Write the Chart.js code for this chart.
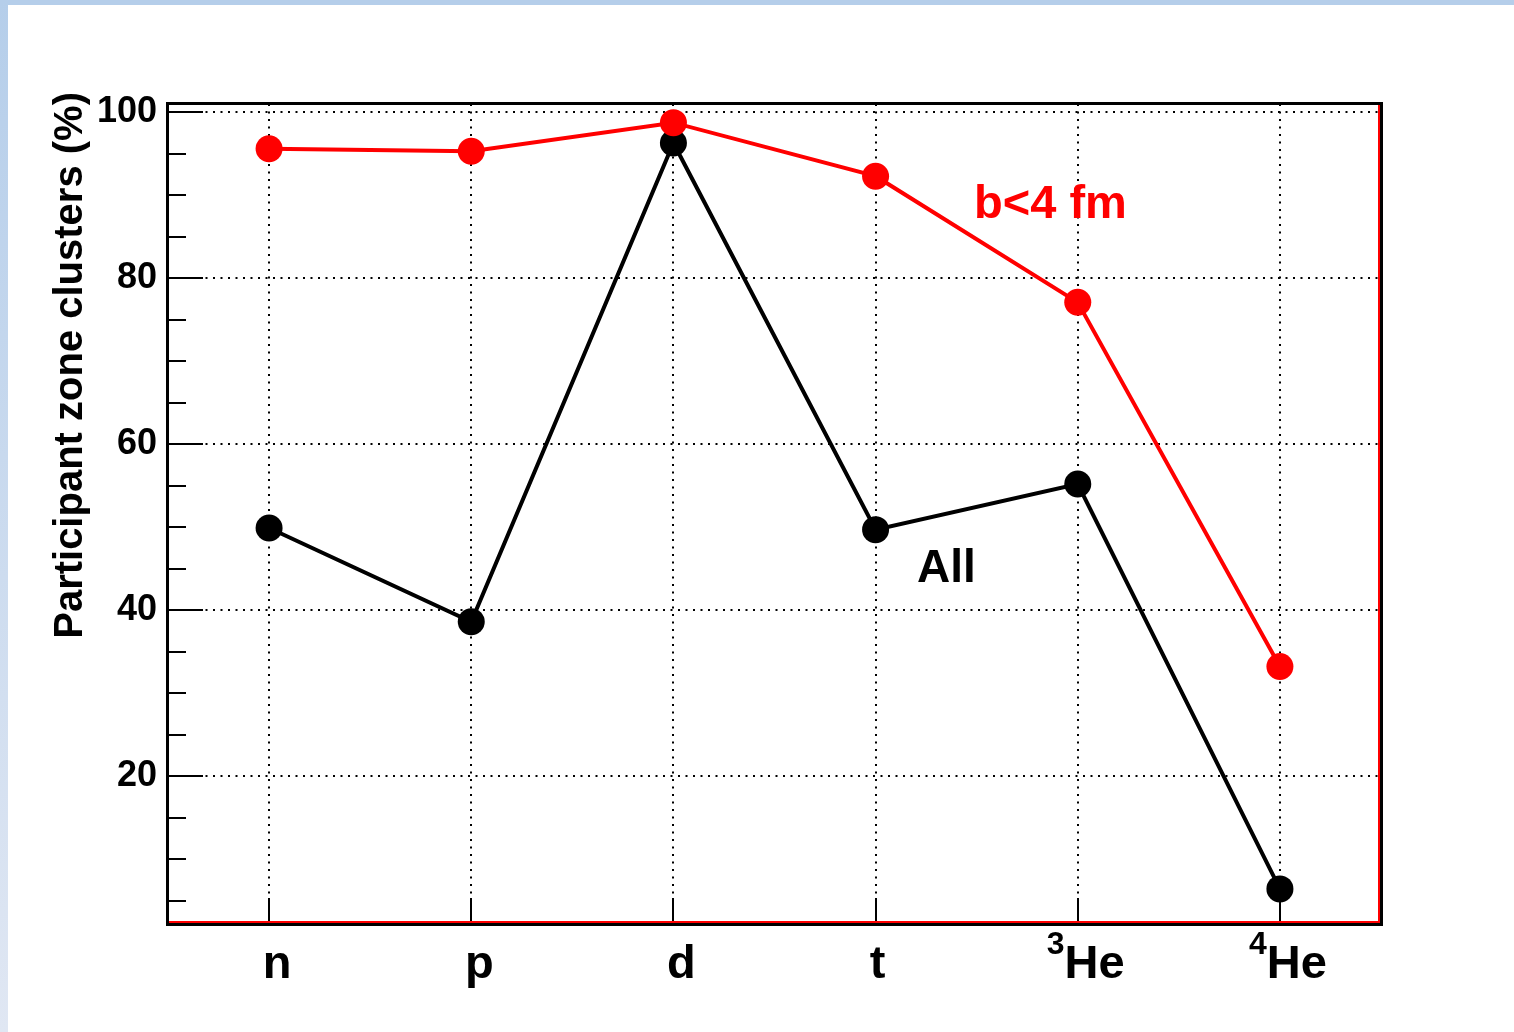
<!DOCTYPE html>
<html>
<head>
<meta charset="utf-8">
<title>Participant zone clusters</title>
<script src="https://cdn.jsdelivr.net/npm/chart.js@4/dist/chart.umd.min.js"></script>
<style>
  html, body { margin: 0; padding: 0; background: #ffffff; }
  #wrap { position: relative; width: 1514px; height: 1032px; overflow: hidden; background: #ffffff; }
  #topband { position: absolute; left: 0; top: 0; width: 1514px; height: 5px; background: rgb(181,206,234); }
  #leftband { position: absolute; left: 0; top: 0; width: 8px; height: 1032px;
              background: linear-gradient(to bottom, rgb(181,206,234), rgb(224,231,243)); }
  canvas { position: absolute; left: 0; top: 0; }
</style>
</head>
<body>
<div id="wrap">
  <canvas id="chart" width="1514" height="1032"></canvas>
  <div id="topband"></div>
  <div id="leftband"></div>
</div>
<script>
// Fragment species and the share of each found in the participant zone (%)
const categories   = ['n', 'p', 'd', 't', '3He', '4He'];
const massNumbers  = ['', '', '', '', '3', '4'];
const symbols      = ['n', 'p', 'd', 't', 'He', 'He'];
const centralValues = [95.6, 95.3, 98.75, 92.3, 77.1, 33.2];   // b<4 fm
const allValues     = [49.9, 38.6, 96.3, 49.7, 55.2, 6.4];     // all impact parameters
const yTickValues   = [20, 40, 60, 80, 100];
const yMinorStep    = 5;
const yMin = 2.17, yMax = 101.0;

const FONT = '"Liberation Sans", Arial, Helvetica, sans-serif';

// Frame, tick marks, superscripted category labels, axis title and curve labels
const decorations = {
  id: 'decorations',
  beforeDatasetsDraw(chart) {
    const { ctx, chartArea: a, scales: { x, y } } = chart;
    ctx.save();
    ctx.strokeStyle = '#000';
    ctx.lineWidth = 2;
    ctx.beginPath();
    // y ticks: long at labelled values, short every 5 units
    for (let v = yMinorStep; v <= yMax; v += yMinorStep) {
      const py = Math.round(y.getPixelForValue(v));
      const major = yTickValues.includes(v);
      ctx.moveTo(a.left, py);
      ctx.lineTo(a.left + (major ? 35 : 18), py);
    }
    // x ticks at each category
    categories.forEach((c, i) => {
      const px = Math.round(x.getPixelForValue(i));
      ctx.moveTo(px, a.bottom);
      ctx.lineTo(px, a.bottom - 26);
    });
    ctx.stroke();
    ctx.restore();
  },
  afterDraw(chart) {
    const { ctx, chartArea: a, scales: { x, y } } = chart;
    ctx.save();
    // frame
    ctx.strokeStyle = '#000';
    ctx.lineWidth = 3;
    ctx.strokeRect(a.left - 0.5, a.top - 0.5, a.right - a.left + 1, a.bottom - a.top + 1);
    ctx.strokeStyle = '#ff0000';
    ctx.lineWidth = 2;
    ctx.beginPath();
    ctx.moveTo(a.left + 1, a.bottom - 2);
    ctx.lineTo(a.right - 2, a.bottom - 2);
    ctx.lineTo(a.right - 2, a.top + 1);
    ctx.stroke();

    // category labels with mass-number superscripts
    ctx.fillStyle = '#000';
    ctx.textBaseline = 'alphabetic';
    ctx.textAlign = 'left';
    const mainFont = 'bold 47px ' + FONT;
    const supFont = 'bold 32px ' + FONT;
    categories.forEach((c, i) => {
      ctx.font = supFont;
      const wSup = massNumbers[i] ? ctx.measureText(massNumbers[i]).width : 0;
      ctx.font = mainFont;
      const wMain = ctx.measureText(symbols[i]).width;
      // narrow single glyphs sit closer to the tick
      const shift = wSup + wMain < 20 ? 2 : 8;
      const cx = x.getPixelForValue(i) + shift;
      let left = cx - (wSup + wMain) / 2;
      const base = a.bottom + 54;
      if (massNumbers[i]) {
        ctx.font = supFont;
        ctx.fillText(massNumbers[i], left, base - 24);
        left += wSup;
      }
      ctx.font = mainFont;
      ctx.fillText(symbols[i], left, base);
    });

    // y axis title, right-aligned to the top of the frame
    ctx.save();
    ctx.font = 'bold 40px ' + FONT;
    ctx.translate(82, a.top - 12);
    ctx.rotate(-Math.PI / 2);
    ctx.textAlign = 'right';
    ctx.fillText('Participant zone clusters (%)', 0, 0);
    ctx.restore();

    // curve labels
    ctx.textAlign = 'left';
    ctx.font = 'bold 47px ' + FONT;
    ctx.fillStyle = '#ff0000';
    ctx.fillText('b<4 fm', x.getPixelForValue(3.487), y.getPixelForValue(87.3));
    ctx.fillStyle = '#000';
    ctx.font = 'bold 46px ' + FONT;
    ctx.fillText('All', x.getPixelForValue(3.205), y.getPixelForValue(43.4));
    ctx.restore();
  }
};

new Chart(document.getElementById('chart'), {
  type: 'line',
  data: {
    labels: categories,
    datasets: [
      {
        label: 'b<4 fm',
        data: centralValues,
        borderColor: '#ff0000',
        backgroundColor: '#ff0000',
        borderWidth: 4,
        pointRadius: 13.5,
        pointHoverRadius: 13.5,
        pointBorderWidth: 0,
        tension: 0,
        fill: false
      },
      {
        label: 'All',
        data: allValues,
        borderColor: '#000000',
        backgroundColor: '#000000',
        borderWidth: 4,
        pointRadius: 13.5,
        pointHoverRadius: 13.5,
        pointBorderWidth: 0,
        tension: 0,
        fill: false
      }
    ]
  },
  options: {
    responsive: false,
    devicePixelRatio: 1,
    animation: false,
    layout: { padding: { top: 104, right: 133, bottom: 0, left: 0 } },
    plugins: { legend: { display: false }, tooltip: { enabled: false }, title: { display: false } },
    scales: {
      x: {
        type: 'category',
        offset: true,
        grid: { offset: false, color: '#000', lineWidth: 2, drawTicks: false },
        border: { display: false, dash: [2, 5.5] },
        ticks: { display: false },
        afterFit(scale) { scale.height = 108; }
      },
      y: {
        min: yMin,
        max: yMax,
        grid: { color: '#000', lineWidth: 2, drawTicks: false },
        border: { display: false, dash: [2, 5.5] },
        afterBuildTicks(scale) { scale.ticks = yTickValues.map(v => ({ value: v })); },
        ticks: {
          color: '#000',
          padding: 11,
          font: { family: FONT, size: 36, weight: 'bold' }
        },
        afterFit(scale) { scale.width = 168; }
      }
    }
  },
  plugins: [decorations]
});
</script>
</body>
</html>
